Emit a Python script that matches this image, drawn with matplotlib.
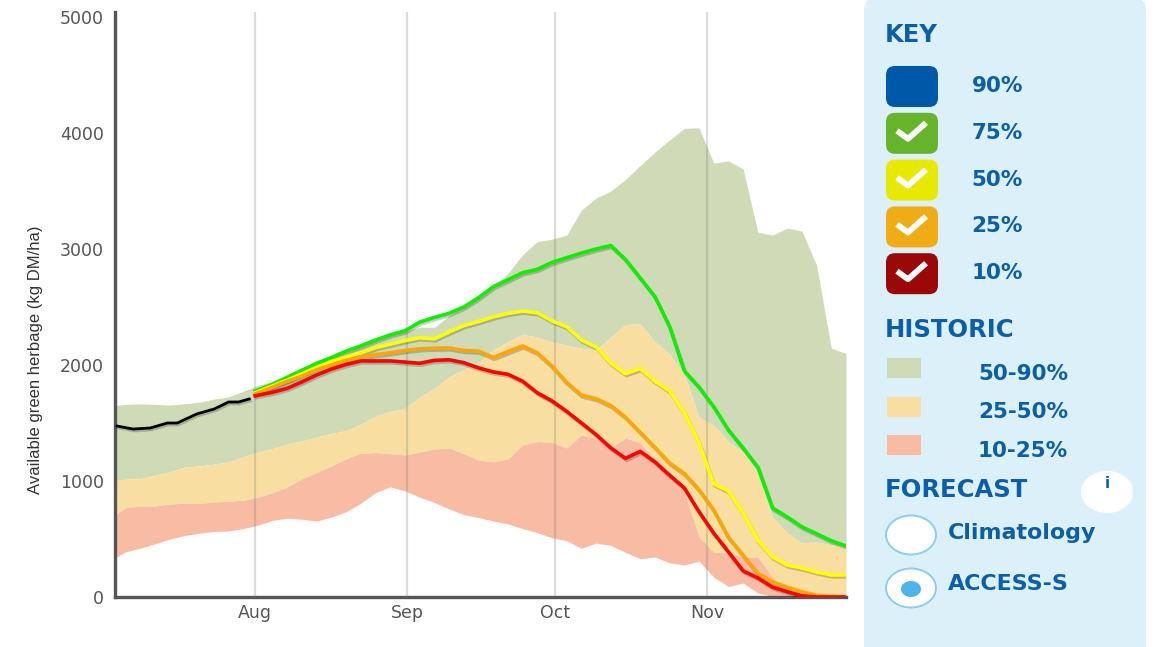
import matplotlib
matplotlib.use("Agg")
import matplotlib.pyplot as plt
import matplotlib.patheffects as pe
from matplotlib.patches import FancyBboxPatch, Ellipse, Rectangle
import numpy as np

plt.rcParams['font.family'] = ['DejaVu Sans']

# Valores, un punto cada 3 dias
dias = np.arange(0, 151, 3)
dias_forecast = dias[10:].astype(float)
dias_forecast[0] = 29.4  # el pronostico arranca en Aug

p90 = [1650,1660,1665,1660,1655,1665,1680,1705,1725,1775,1825,1860,1905,1965,2025,2075,2130,
       2175,2225,2265,2290,2325,2325,2425,2500,2585,2680,2790,2950,3065,3085,3120,3335,3440,
       3500,3600,3720,3835,3940,4040,4045,3740,3760,3690,3145,3120,3180,3155,2860,2145,2100]
p50 = [1000,1015,1020,1050,1080,1120,1130,1145,1165,1210,1250,1280,1320,1345,1380,1410,1435,
       1490,1560,1600,1625,1725,1800,1900,1960,2020,2130,2200,2265,2240,2200,2170,2145,2130,
       2240,2350,2355,2200,2095,1920,1550,1480,1340,1250,1070,690,552,466,474,450,431]
p25 = [680,770,785,785,800,810,805,820,825,835,860,900,950,1020,1075,1130,1190,
       1240,1245,1235,1225,1250,1275,1285,1235,1180,1165,1190,1310,1340,1335,1285,1395,1370,
       1285,1370,1330,1165,1050,905,520,385,380,345,345,172,35,10,0,0,0]
p10 = [320,390,420,460,500,530,550,565,570,590,620,660,680,670,655,690,735,
       810,900,950,915,860,815,760,710,685,655,630,590,555,510,485,420,465,
       445,385,330,345,295,275,310,172,90,120,35,5,0,0,0,0,0]

linea_verde = [1775,1835,1895,1955,2015,2065,2120,2165,2215,2260,2295,2370,2410,2445,2500,2580,
               2675,2735,2795,2825,2885,2925,2965,3000,3030,2910,2750,2590,2330,1950,1810,1640,
               1440,1285,1120,767,690,605,545,485,440]
linea_amarilla = [1760,1820,1870,1925,1980,2030,2070,2105,2150,2180,2210,2235,2225,2285,2340,2375,
                  2415,2445,2465,2450,2380,2330,2215,2155,2015,1925,1970,1860,1775,1590,1330,975,
                  915,725,490,345,275,250,215,190,190]
linea_naranja = [1750,1810,1860,1905,1960,2000,2040,2070,2090,2105,2125,2140,2145,2147,2125,2120,
                 2065,2115,2165,2105,1990,1850,1740,1710,1650,1550,1420,1290,1155,1065,925,750,
                 515,360,205,130,85,45,15,5,0]
linea_roja = [1735,1765,1800,1855,1915,1965,2005,2035,2035,2035,2025,2015,2040,2045,2020,1975,
              1940,1920,1860,1760,1690,1600,1500,1400,1285,1195,1255,1165,1050,940,735,550,
              390,225,165,85,45,10,0,0,0]

dias_obs = [1.2, 4.5, 8, 11.5, 13.5, 17.5, 21, 24, 26, 28.2]
observado = [1474,1448,1457,1500,1500,1578,1620,1681,1681,1707]

meses = ["Aug", "Sep", "Oct", "Nov"]
dias_meses = [29.4, 60.4, 90.6, 121.6]

y_ticks = [0, 1000, 2000, 3000, 4000, 5000]

key_labels = ["90%", "75%", "50%", "25%", "10%"]
key_colores = ["#0059a8", "#66b42c", "#e8e800", "#f0ac14", "#9a0808"]
historic_labels = ["50-90%", "25-50%", "10-25%"]
historic_colores = ["#cedbb6", "#f8dea0", "#f8bba3"]

azul = "#0b5fa8"
gris = "#555555"

fig = plt.figure(figsize=(11.54, 6.47), dpi=100)

# Grafico principal
ax = fig.add_axes([115/1154, 1-597/647, (846-115)/1154, (597-12)/647])

ax.fill_between(dias, p50, p90, color=historic_colores[0], lw=0)
ax.fill_between(dias, p25, p50, color=historic_colores[1], lw=0)
ax.fill_between(dias, p10, p25, color=historic_colores[2], lw=0)

for d in dias_meses:
    ax.axvline(d, color="#777777", alpha=0.25, lw=1.6, zorder=3)

sombra = [pe.SimpleLineShadow(offset=(0.8, -1.4), alpha=0.2, shadow_color="black"), pe.Normal()]
ax.plot(dias_obs, observado, color="black", lw=2.0, zorder=5, path_effects=sombra)
ax.plot(dias_forecast, linea_verde, color="#10ee00", lw=2.6, zorder=5, path_effects=sombra)
ax.plot(dias_forecast, linea_amarilla, color="#ffff00", lw=2.6, zorder=6, path_effects=sombra)
ax.plot(dias_forecast, linea_naranja, color="#ffa500", lw=2.6, zorder=7, path_effects=sombra)
ax.plot(dias_forecast, linea_roja, color="#ff0000", lw=2.6, zorder=8, path_effects=sombra)

ax.set_xlim(0.8, 150)
ax.set_ylim(0, 5043)
ax.set_xticks(dias_meses)
ax.set_xticklabels(meses, color=gris, fontsize=12.5)
ax.set_yticks(y_ticks)
ax.set_yticklabels(y_ticks, color=gris, fontsize=12.5)
ax.tick_params(axis="y", length=0, pad=8)
ax.tick_params(axis="x", length=0, pad=5)
ax.spines["top"].set_visible(False)
ax.spines["right"].set_visible(False)
ax.spines["left"].set_linewidth(2.4)
ax.spines["bottom"].set_linewidth(2.4)
ax.spines["left"].set_color("#555555")
ax.spines["bottom"].set_color("#555555")

fig.text(36/1154, 1-360/647, "Available green herbage (kg DM/ha)", rotation=90, ha="center", va="center",
         fontsize=12, color="#333333", family="Liberation Sans")

# Panel lateral, en pixeles de la figura
panel = fig.add_axes([0, 0, 1, 1], facecolor="none")
panel.set_xlim(0, 1154)
panel.set_ylim(647, 0)
panel.axis("off")

panel.add_patch(FancyBboxPatch((864, -2), 282, 680, boxstyle="round,pad=0,rounding_size=12",
                               fc="#dcf0fa", ec="none"))

def titulo(x, y, s):
    panel.text(x, y, s, color=azul, fontsize=17.5, fontweight="bold", ha="left", va="center")

titulo(885, 35, "KEY")
titulo(885, 330, "HISTORIC")
titulo(885, 490, "FORECAST")

for i in range(5):
    y0 = 66 + i*46.8
    panel.add_patch(FancyBboxPatch((886, y0), 52, 41, boxstyle="round,pad=0,rounding_size=9",
                                   fc=key_colores[i], ec="none"))
    if i > 0:
        panel.plot([897, 908, 926], [y0+18, y0+26, y0+10], color="white", lw=4.2, solid_capstyle="butt")
    panel.text(1023, y0+20, key_labels[i], color=azul, fontsize=15.5, fontweight="bold", ha="right", va="center")

for i in range(3):
    y0 = 358 + i*38.5
    panel.add_patch(Rectangle((887, y0), 34, 20, fc=historic_colores[i], ec="none"))
    panel.text(1068, y0+16, historic_labels[i], color=azul, fontsize=15.5, fontweight="bold", ha="right", va="center")

panel.add_patch(Ellipse((1107, 492), 52, 42, fc="white", ec="none"))
panel.text(1107, 484, "i", color=azul, fontsize=11, fontweight="bold", ha="center", va="center")

panel.add_patch(Ellipse((911, 535), 50, 39, fc="white", ec="#8ccdf0", lw=1.4))
panel.text(948, 533, "Climatology", color=azul, fontsize=15.9, fontweight="bold", ha="left", va="center")
panel.add_patch(Ellipse((911, 588), 50, 39, fc="white", ec="#8ccdf0", lw=1.4))
panel.add_patch(Ellipse((911, 589), 20, 16, fc="#4db5ea", ec="none"))
panel.text(948, 584, "ACCESS-S", color=azul, fontsize=15.9, fontweight="bold", ha="left", va="center")

fig.savefig("out.png", dpi=100)
